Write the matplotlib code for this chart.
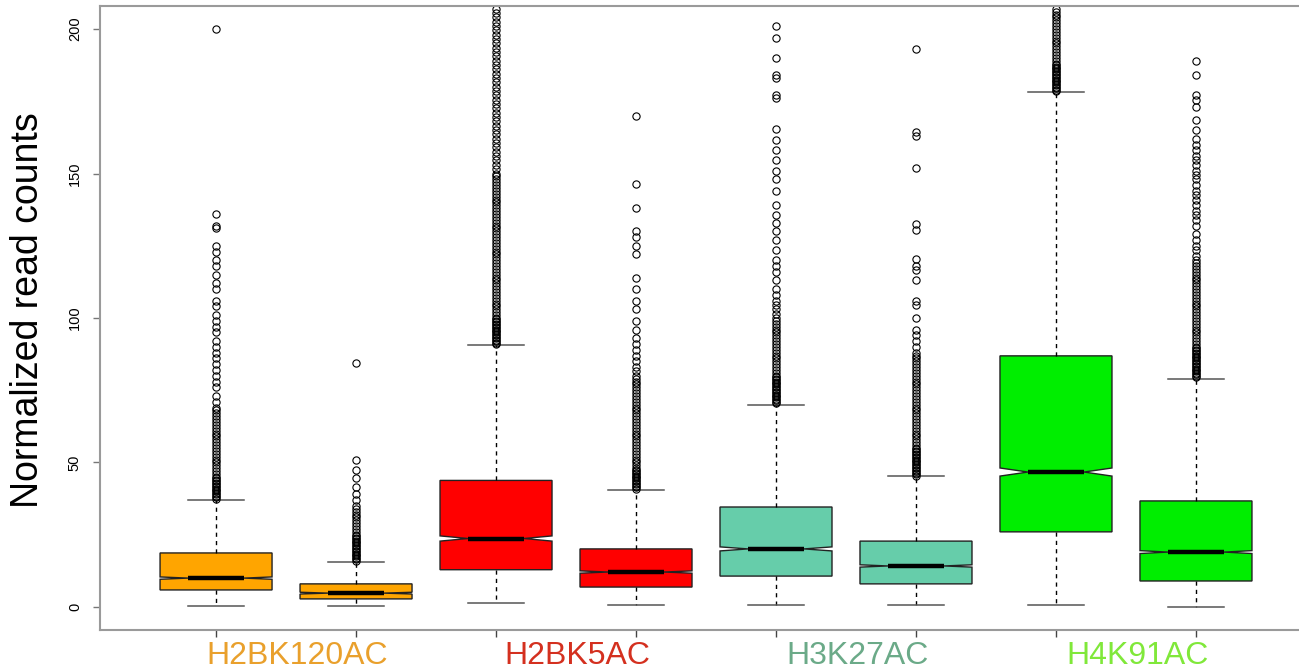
import matplotlib
matplotlib.use("Agg")
import matplotlib.pyplot as plt
import matplotlib.transforms as mtransforms

plt.rcParams['font.family'] = ['Liberation Sans', 'DejaVu Sans']

# box statistics (two boxes per mark)
marks = ["H2BK120AC", "H2BK5AC", "H3K27AC", "H4K91AC"]
mark_colors = ["#E9A02C", "#D4301F", "#6BAA88", "#80E83A"]
box_colors = ["#FFA500", "#FFA500", "#FF0000", "#FF0000",
              "#66CDAA", "#66CDAA", "#00EE00", "#00EE00"]

q1 = [5.9, 2.8, 12.9, 6.9, 10.7, 8.0, 26.0, 9.0]
med = [10.0, 4.8, 23.7, 12.1, 20.1, 14.2, 46.7, 19.0]
q3 = [18.7, 8.0, 43.8, 20.1, 34.6, 22.8, 86.9, 36.7]
whislo = [0.3, 0.2, 1.4, 0.7, 0.7, 0.7, 0.7, 0.0]
whishi = [37.0, 15.6, 90.7, 40.5, 69.9, 45.3, 178.2, 78.9]
notch = [0.4, 0.3, 0.9, 0.4, 0.7, 0.4, 1.4, 0.5]

out1 = [37.5, 38, 38.5, 39, 39.5, 40, 40.5, 41, 41.5, 42, 42.5, 43, 43.5, 44,
        44.5, 45, 46, 47, 48, 49, 50, 51, 52, 53, 54, 55, 56, 57, 58, 59, 60,
        61, 62, 63, 64, 65, 66, 67, 68, 69, 71, 73, 76, 78, 80, 82, 84, 86,
        88, 90, 92, 95, 97, 99, 101, 104, 106, 110, 112, 115, 118, 120, 123,
        125, 131, 132, 136, 200]
out2 = [16, 16.5, 17, 17.5, 18, 18.5, 19, 19.5, 20, 20.5, 21, 21.5, 22, 22.5,
        23, 23.5, 24, 24.5, 25, 26, 27, 28, 29, 30, 31, 32, 33, 34, 35, 37,
        39, 41.5, 44.5, 47.5, 51, 84.5]
out3 = [91, 91.5, 92, 92.5, 93, 93.5, 94, 94.5, 95, 95.5, 96, 96.5, 97, 97.5,
        98, 98.5, 99, 99.5, 100, 101, 102, 103, 104, 105, 106, 107, 108, 109,
        110, 111, 112, 113, 114, 115, 116, 117, 118, 119, 120, 121, 122, 123,
        124, 125, 126, 127, 128, 129, 130, 131, 132, 133, 134, 135, 136, 137,
        138, 139, 140, 141, 142, 143, 144, 145, 146, 147, 148, 149, 150,
        151.5, 153, 154.5, 156, 157.5, 159, 160.5, 162, 163.5, 165, 166.5,
        168, 169.5, 171, 172.5, 174, 175.5, 177, 178.5, 180, 181.5, 183,
        184.5, 186, 187.5, 189, 190.5, 192, 193.5, 195, 196.5, 198, 199.5,
        201, 202.5, 204, 205.5, 207]
out4 = [41, 41.5, 42, 42.5, 43, 43.5, 44, 44.5, 45, 45.5, 46, 46.5, 47, 47.5,
        48, 49, 50, 51, 52, 53, 54, 55, 56, 57, 58, 59, 60, 61, 62, 63, 64,
        65, 66, 67, 68, 69, 70, 71, 72, 73, 74, 75, 76, 77, 78, 79, 80, 81.5,
        83, 85, 87, 89, 91, 93, 96, 99, 103, 106, 110, 114, 122, 125, 128,
        130, 138, 146.5, 170]
out5 = [70.5, 71, 71.5, 72, 72.5, 73, 73.5, 74, 74.5, 75, 75.5, 76, 76.5, 77,
        77.5, 78, 78.5, 79, 79.5, 80, 81, 82, 83, 84, 85, 86, 87, 88, 89, 90,
        91, 92, 93, 94, 95, 96, 97, 98, 99, 100, 101.5, 103, 104.5, 106, 108,
        110, 113, 116, 118, 120, 123.5, 127, 130, 133, 135.5, 139, 144, 148,
        151, 154.5, 158, 161.5, 165.5, 176, 177, 183, 184, 190, 197, 201]
out6 = [45.5, 46, 46.5, 47, 47.5, 48, 48.5, 49, 49.5, 50, 50.5, 51, 51.5, 52,
        52.5, 53, 53.5, 54, 54.5, 55, 56, 57, 58, 59, 60, 61, 62, 63, 64, 65,
        66, 67, 68, 69, 70, 71, 72, 73, 74, 75, 76, 77, 78, 79, 80, 81, 82,
        83, 84, 85, 86, 87, 88, 90, 92, 94, 96, 100, 104.5, 106, 113, 116.5,
        118, 120.5, 130.5, 132.5, 152, 163, 164.5, 193]
out7 = [178.5, 179, 179.5, 180, 180.5, 181, 181.5, 182, 182.5, 183, 183.5,
        184, 184.5, 185, 185.5, 186, 186.5, 187, 187.5, 188, 189, 190, 191,
        192, 193, 194, 195, 196, 197, 198, 199, 200, 201, 202, 203, 204, 205,
        206, 207]
out8 = [79.5, 80, 80.5, 81, 81.5, 82, 82.5, 83, 83.5, 84, 84.5, 85, 85.5, 86,
        86.5, 87, 87.5, 88, 88.5, 89, 89.5, 90, 91, 92, 93, 94, 95, 96, 97,
        98, 99, 100, 101, 102, 103, 104, 105, 106, 107, 108, 109, 110, 111,
        112, 113, 114, 115, 116, 117, 118, 119, 120, 121.5, 123.5, 125, 127,
        129, 132, 134, 135.5, 137, 139, 141, 142.5, 144, 146, 148, 149.5, 151,
        153, 154.5, 156, 158, 160, 162, 165, 168.5, 173, 175.5, 177, 184, 189]
outliers = [out1, out2, out3, out4, out5, out6, out7, out8]

positions = list(range(1, 9))
stats = []
for i in range(8):
    stats.append(dict(med=med[i], q1=q1[i], q3=q3[i], whislo=whislo[i],
                      whishi=whishi[i], fliers=outliers[i],
                      cilo=med[i] - notch[i], cihi=med[i] + notch[i]))

fig = plt.figure(figsize=(12.99, 6.71), dpi=100)
ax = fig.add_axes([100/1299, 41/671, 1199/1299, 624/671])

bp = ax.bxp(stats, positions=positions, widths=0.8, patch_artist=True,
            shownotches=True,
            boxprops=dict(edgecolor='#222222', linewidth=1.0),
            medianprops=dict(color='black', linewidth=3.2, solid_capstyle='butt'),
            whiskerprops=dict(color='black', linewidth=1.0, linestyle=(0, (3, 3))),
            capprops=dict(color='#555555', linewidth=1.1),
            flierprops=dict(marker='o', markersize=5.2, markerfacecolor='none',
                            markeredgecolor='black', markeredgewidth=0.8))
for patch, c in zip(bp['boxes'], box_colors):
    patch.set_facecolor(c)

ax.set_xlim(0.171, 8.736)
ax.set_ylim(-7.96, 207.96)

for s in ['left', 'bottom', 'top']:
    ax.spines[s].set_color('#9a9a9a')
    ax.spines[s].set_linewidth(1.5)
ax.spines['right'].set_visible(False)

ax.set_xticks(positions)
ax.set_xticklabels([])
ax.tick_params(axis='x', length=5, width=1, color='#444444')
ax.set_yticks([0, 50, 100, 150, 200])
ax.set_yticklabels(['0', '50', '100', '150', '200'], rotation=90, va='center',
                   fontsize=10.5)
ax.tick_params(axis='y', length=5, width=1, color='#777777', pad=8)

trans = mtransforms.blended_transform_factory(ax.transData, ax.transAxes)
for j, (m, c) in enumerate(zip(marks, mark_colors)):
    ax.text(2*j + 1.58, -0.042, m, color=c, fontsize=23, ha='center',
            va='center', transform=trans)

fig.text(28/1299, 1 - 310/671, "Normalized read counts", rotation=90,
         fontsize=27, ha='center', va='center')

fig.savefig("out.png", dpi=100)
